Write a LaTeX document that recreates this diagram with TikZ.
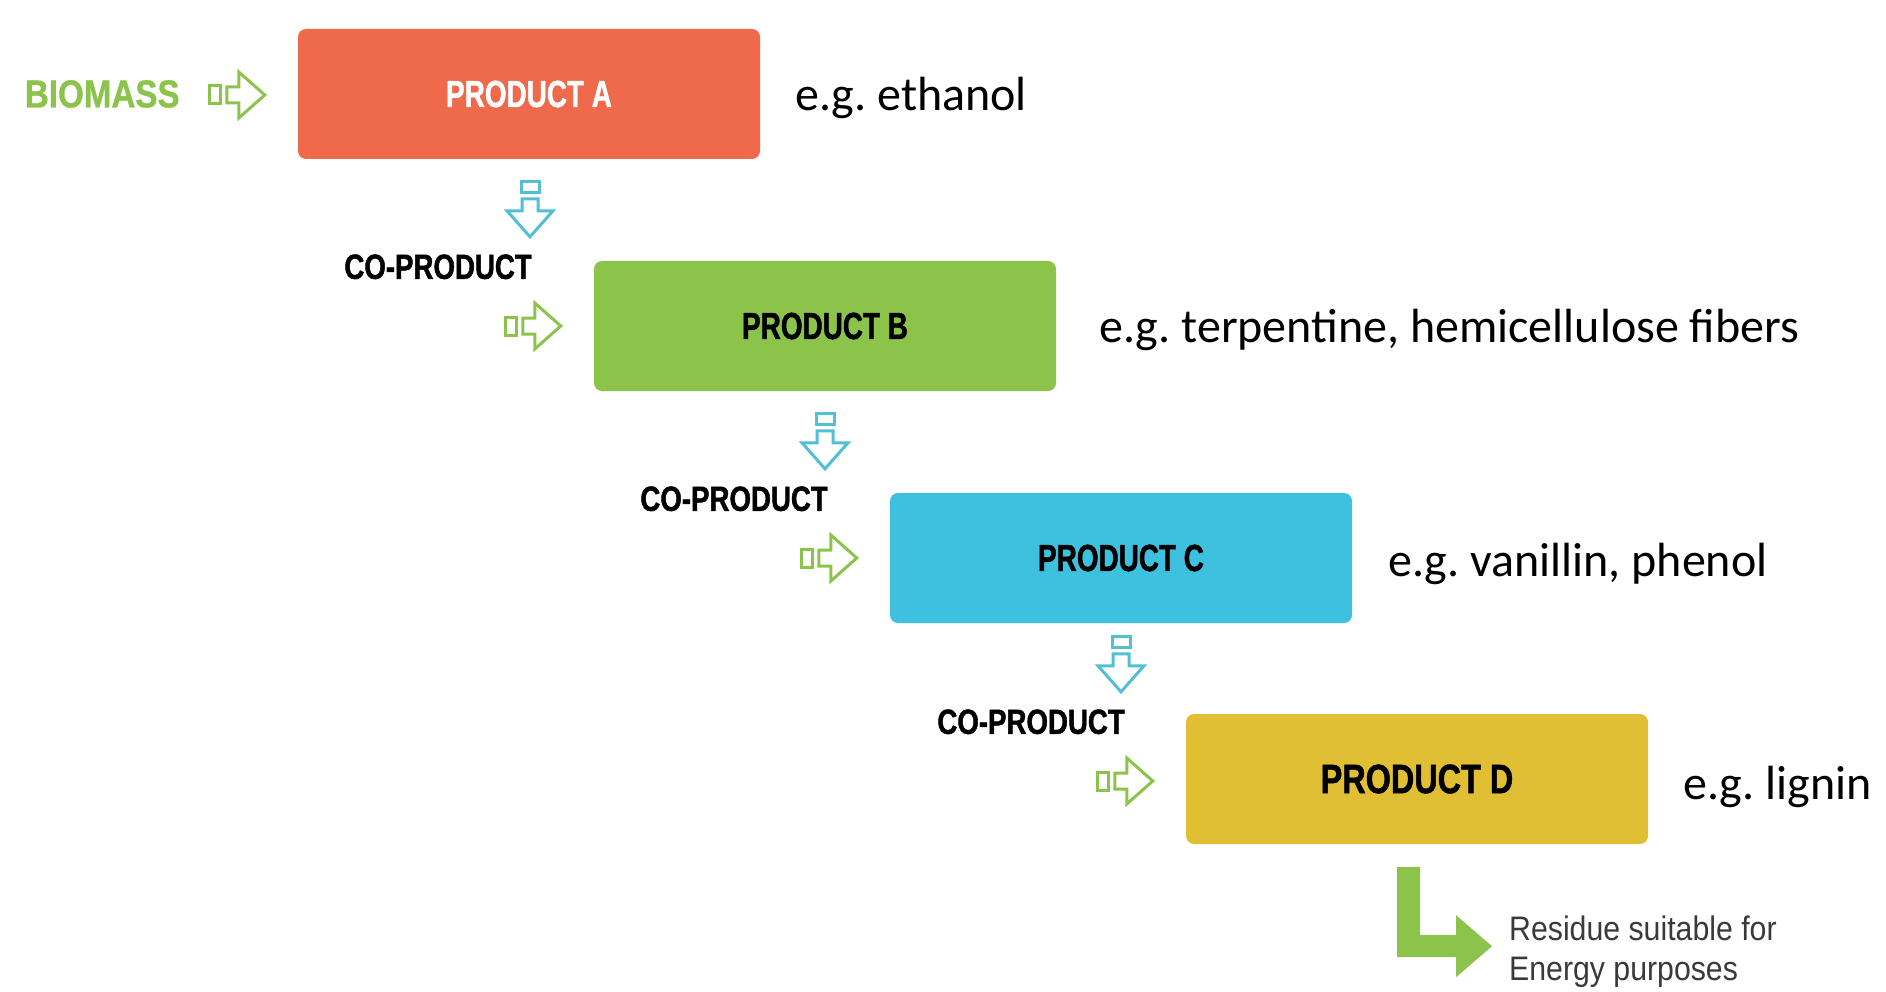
\documentclass[tikz,border=0pt]{standalone}
\usepackage{fontspec}
\setmainfont{Carlito}
\newfontfamily\boxfont[FakeStretch=0.74,FakeBold=1.2]{Liberation Sans}
\newfontfamily\boxfontD[FakeStretch=0.79,FakeBold=1.2]{Liberation Sans}
\newfontfamily\bioFont[FakeStretch=0.85,FakeBold=0.8]{Liberation Sans}
\newfontfamily\coFont[FakeStretch=0.79,FakeBold=1.2]{Liberation Sans}
\newfontfamily\resFont[FakeStretch=0.89]{Liberation Sans}
\usetikzlibrary{calc}
\definecolor{prodA}{HTML}{EE6A4A}
\definecolor{prodB}{HTML}{8CC34A}
\definecolor{prodC}{HTML}{3EC1DF}
\definecolor{prodD}{HTML}{E1BF35}
\definecolor{leafGreen}{HTML}{8CC34A}
\definecolor{flowCyan}{HTML}{52BFD4}
\definecolor{inkGray}{HTML}{3A3A3A}
\tikzset{
  prodbox/.style={rounded corners=8pt, minimum width=462pt, minimum height=130pt,
    inner sep=0pt, font=\boxfont\bfseries\fontsize{37.7}{40}\selectfont},
  example/.style={anchor=west, inner sep=0pt, font=\fontsize{48}{58}\selectfont},
  coprod/.style={anchor=east, inner sep=0pt, font=\coFont\bfseries\fontsize{35}{40}\selectfont},
  hollow arrow/.pic={
    \draw[line width=3pt] (-55,-9) rectangle (-44,9);
    \draw[line width=3pt, line join=miter]
      (-38,-8) -- (-26,-8) -- (-26,-23) -- (0,0) -- (-26,23) -- (-26,8) -- (-38,8) -- cycle;
  }
}
\begin{document}
\frenchspacing
\begin{tikzpicture}[x=1pt,y=-1pt]
\useasboundingbox[fill=white] (0,0) rectangle (1886,992);

% product cascade
\node[prodbox, fill=prodA, text=white] (A) at (529,94) {PRODUCT A};
\node[prodbox, fill=prodB, text=black] (B) at (825,326) {PRODUCT B};
\node[prodbox, fill=prodC, text=black] (C) at (1121,558) {PRODUCT C};
\node[prodbox, fill=prodD, text=black,
      font=\boxfontD\bfseries\fontsize{41}{44}\selectfont] (D) at (1417,779)
  {\raisebox{-3.5pt}{PRODUCT D}};

% examples
\node[example] (exA) at ($(A.east)+(35,4)$) {e.g. ethanol};
\node[example] (exB) at ($(B.east)+(43,4)$) {e.g. terpentine, hemicellulose fibers};
\node[example] (exC) at ($(C.east)+(36,6)$) {e.g. vanillin, phenol};
\node[example] (exD) at ($(D.east)+(35,8)$) {e.g. lignin};

% feedstock
\node[anchor=east, inner sep=0pt, text=leafGreen,
      font=\bioFont\bfseries\fontsize{39}{42}\selectfont] (bio) at ($(A.west)+(-118,0)$) {BIOMASS};

% inputs into each box
\pic[leafGreen] at ($(A.west)+(-33,1)$) {hollow arrow};
\pic[leafGreen] at ($(B.west)+(-33,0)$) {hollow arrow};
\pic[leafGreen] at ($(C.west)+(-33,0)$) {hollow arrow};
\pic[leafGreen] at ($(D.west)+(-33,2)$) {hollow arrow};

% co-product flows
\pic[flowCyan, rotate=-90] at ($(A.center |- B.north)+(1,-24)$) {hollow arrow};
\pic[flowCyan, rotate=-90] at ($(B.center |- C.north)+(0,-24)$) {hollow arrow};
\pic[flowCyan, rotate=-90] at ($(C.center |- D.north)+(0,-22)$) {hollow arrow};

\node[coprod] (co1) at ($(A.center |- B.north)+(3,6)$) {CO-PRODUCT};
\node[coprod] (co2) at ($(B.center |- C.north)+(3,6)$) {CO-PRODUCT};
\node[coprod] (co3) at ($(C.center |- D.north)+(4,8)$) {CO-PRODUCT};

% residue
\fill[leafGreen, shift={(D.south)}]
  (-20,23) -- (3,23) -- (3,91) -- (39,91) -- (39,71) -- (75,102)
  -- (39,133) -- (39,113) -- (-20,113) -- cycle;
\node[anchor=west, inner sep=0pt, align=left, text=inkGray,
      font=\resFont\fontsize{34}{40}\selectfont] (res) at ($(D.south)+(92,107)$)
  {Residue suitable for\\Energy purposes};
\end{tikzpicture}
\end{document}
